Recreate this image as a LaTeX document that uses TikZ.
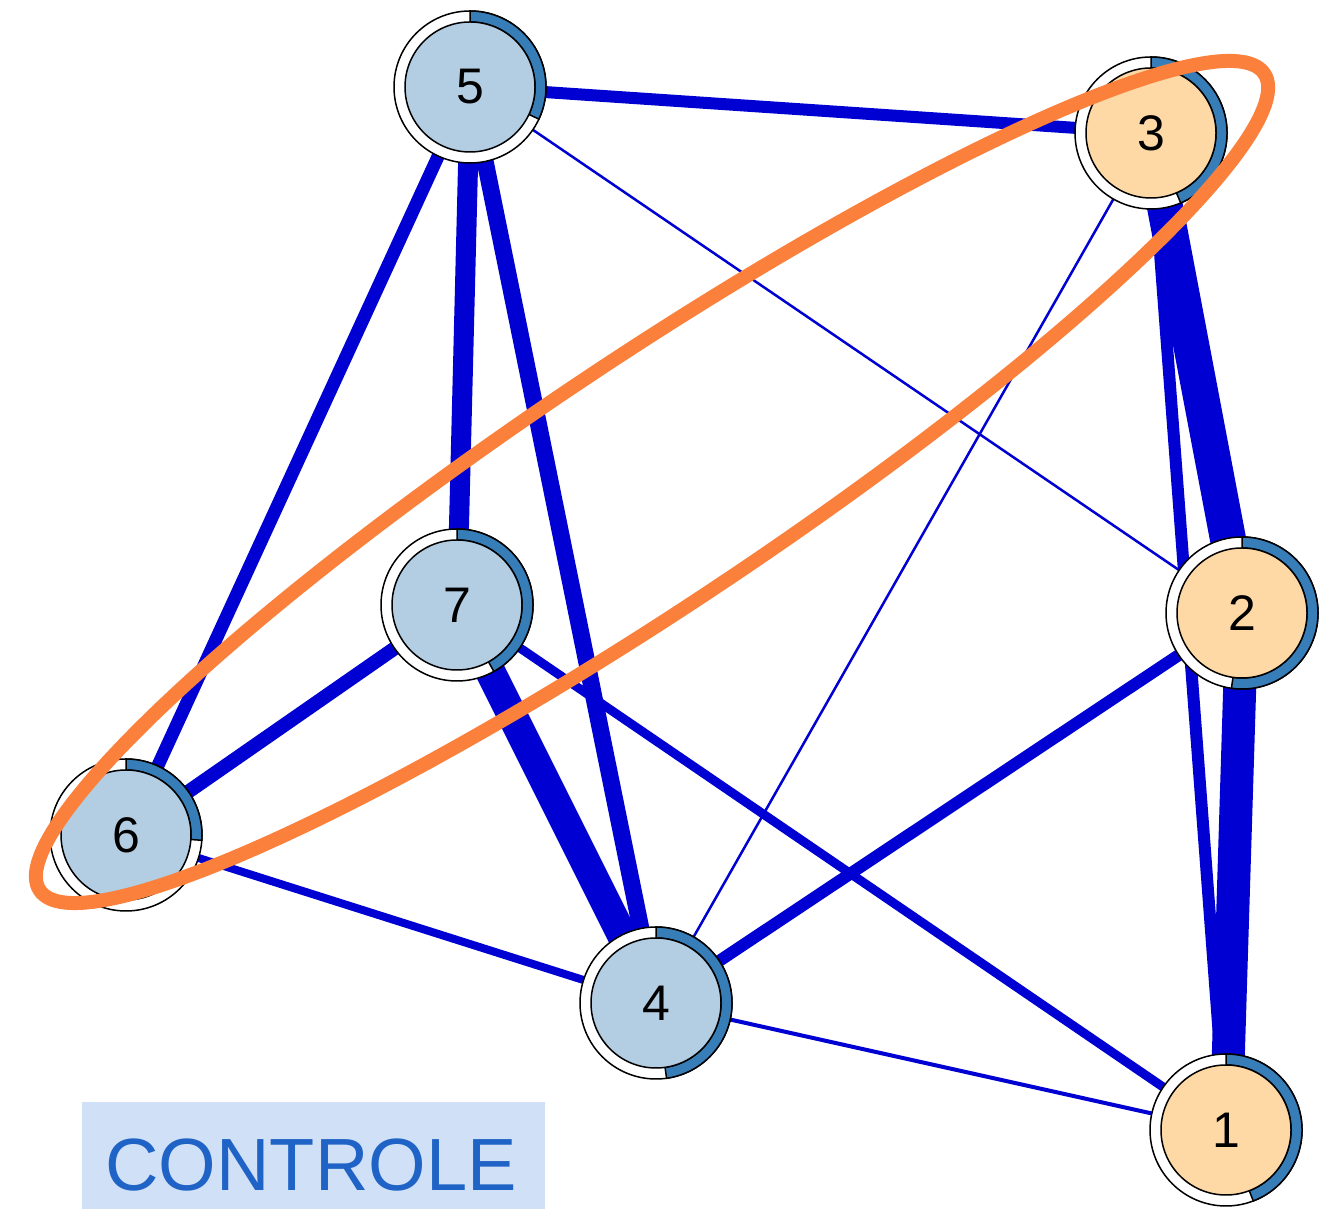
\documentclass[tikz,border=0pt]{standalone}
\usepackage{fontspec}
\setmainfont{Liberation Sans}
\usetikzlibrary{backgrounds}
\definecolor{edgeblue}{RGB}{0,0,210}
\definecolor{piecol}{RGB}{55,126,184}
\definecolor{ctlfill}{HTML}{B3CDE3}
\definecolor{trtfill}{HTML}{FED9A6}
\definecolor{hiorange}{RGB}{250,128,60}
\definecolor{tagfill}{RGB}{207,224,247}
\definecolor{tagtext}{RGB}{31,99,198}
\begin{document}
\begin{tikzpicture}[x=1pt,y=1pt,
    ring/.style={circle,draw,line width=1.5pt,fill=white,minimum size=152pt,inner sep=0pt},
    core/.style={circle,draw,line width=1.5pt,minimum size=130pt,inner sep=0pt,font=\fontsize{50}{50}\selectfont},
    pie/.style={fill=piecol,draw,line width=1.5pt},
    edge/.style={draw=edgeblue}]
  \useasboundingbox (0,0) rectangle (1338,1209);
  % nodes: name/x/y/end of pie/fill
  \foreach \n/\x/\y/\e/\c in {5/470/1122/-25/ctlfill,3/1151/1076/-67/trtfill,2/1242/596/-98/trtfill,
      7/457/604/-61/ctlfill,6/126/374/-4/ctlfill,4/656/206/-82/ctlfill,1/1226/79/-69/trtfill}{
    \node[ring] (n\n) at (\x,\y) {};
    \filldraw[pie] ([shift={(90:65)}]n\n.center) arc[start angle=90,end angle=\e,radius=65]
      -- ([shift={(\e:76)}]n\n.center) arc[start angle=\e,end angle=90,radius=76] -- cycle;
    \node[core,fill=\c] (c\n) at (n\n) {\n};
  }
  % edges
  \begin{scope}[on background layer]
    \foreach \a/\b/\w in {5/3/12,5/2/2.5,5/6/13,5/7/20,5/4/17,3/2/36,3/1/12,3/4/2.5,
        2/1/33,2/4/12,7/6/14,7/4/30,7/1/9,6/4/8,4/1/4}
      \draw[edge,line width=\w pt] (n\a.center) -- (n\b.center);
  \end{scope}
  \draw[hiorange,line width=14pt,rotate around={33.7:(652,727)}] (652,727) ellipse[x radius=736,y radius=123];
  \node[fill=tagfill,minimum width=463pt,minimum height=107pt,inner sep=0pt] (tag) at (313.5,53.5) {};
  \node[text=tagtext,font=\fontsize{74}{74}\selectfont,inner sep=0pt] (tagword) at (311,44) {CONTROLE};
\end{tikzpicture}
\end{document}
